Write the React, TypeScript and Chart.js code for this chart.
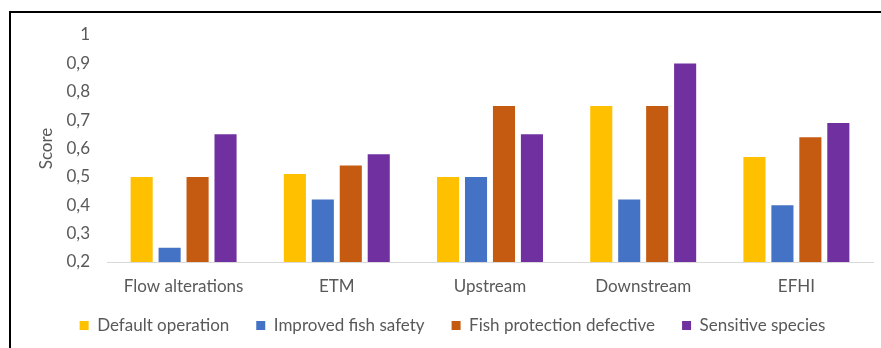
import React, { useEffect, useRef } from "react";
import { Chart, registerables } from "chart.js";

Chart.register(...registerables);

const categories = ["Flow alterations", "ETM", "Upstream", "Downstream", "EFHI"];
const seriesNames = ["Default operation", "Improved fish safety", "Fish protection defective", "Sensitive species"];
const defaultOperation = [0.5, 0.51, 0.5, 0.75, 0.57];
const improvedFishSafety = [0.25, 0.42, 0.5, 0.42, 0.4];
const fishProtectionDefective = [0.5, 0.54, 0.75, 0.75, 0.64];
const sensitiveSpecies = [0.65, 0.58, 0.65, 0.9, 0.69];
const seriesColors = ["#FFC000", "#4472C4", "#C55A11", "#7030A0"];
const yMin = 0.2;
const yMax = 1;
const yStep = 0.1;
const yTitle = "Score";

const FONT = "Lato";
const TEXT = "#595959";
const FS = 17;
const LEGEND_SHIFT = 8;

const shiftLegend = {
  id: "shiftLegend",
  afterLayout(chart: any) {
    const l = chart.legend;
    if (l) {
      l.top -= LEGEND_SHIFT;
      l.bottom -= LEGEND_SHIFT;
    }
  },
};

export default function App() {
  const ref = useRef<HTMLCanvasElement | null>(null);

  useEffect(() => {
    if (!ref.current) return;
    const values = [defaultOperation, improvedFishSafety, fishProtectionDefective, sensitiveSpecies];
    const chart = new Chart(ref.current, {
      type: "bar",
      data: {
        labels: categories,
        datasets: seriesNames.map((name, i) => ({
          label: name,
          data: values[i],
          backgroundColor: seriesColors[i],
          borderWidth: 0,
          categoryPercentage: 0.73,
          barPercentage: 0.79,
        })),
      },
      plugins: [shiftLegend],
      options: {
        responsive: false,
        animation: false,
        devicePixelRatio: 1,
        layout: { padding: { left: 32, right: 8, top: 35, bottom: 0 } },
        plugins: {
          tooltip: { enabled: false },
          legend: {
            position: "bottom",
            labels: {
              boxWidth: 9,
              boxHeight: 9,
              padding: 27,
              color: TEXT,
              font: { family: FONT, size: FS },
            },
          },
        },
        scales: {
          x: {
            grid: { display: false, drawTicks: false },
            border: { display: true, color: "#D9D9D9", width: 1 },
            ticks: { color: TEXT, font: { family: FONT, size: FS }, padding: 14, maxRotation: 0 },
            afterFit: (s: any) => {
              s.height = 36;
            },
          },
          y: {
            min: yMin,
            max: yMax,
            grid: { display: false, drawTicks: false },
            border: { display: false },
            ticks: {
              stepSize: yStep,
              color: TEXT,
              font: { family: FONT, size: FS },
              padding: 17,
              callback: (v: any) => {
                const n = Number(v);
                return Math.abs(n - 1) < 1e-9 ? "1" : n.toFixed(1).replace(".", ",");
              },
            },
            title: {
              display: true,
              text: yTitle,
              color: TEXT,
              font: { family: FONT, size: FS },
            },
            afterFit: (s: any) => {
              s.width = 75;
            },
          },
        },
      },
    });
    return () => chart.destroy();
  }, []);

  return (
    <div
      style={{
        position: "fixed",
        left: 0,
        top: 0,
        width: 881,
        height: 348,
        overflow: "hidden",
        background: "#fff",
      }}
    >
      <canvas ref={ref} width={881} height={352} style={{ position: "absolute", left: 0, top: 0, width: 881, height: 352 }} />
      <div
        style={{
          position: "absolute",
          left: 9,
          top: 11,
          width: 2000,
          height: 2000,
          borderTop: "2px solid #000",
          borderLeft: "2px solid #000",
          pointerEvents: "none",
        }}
      />
    </div>
  );
}
